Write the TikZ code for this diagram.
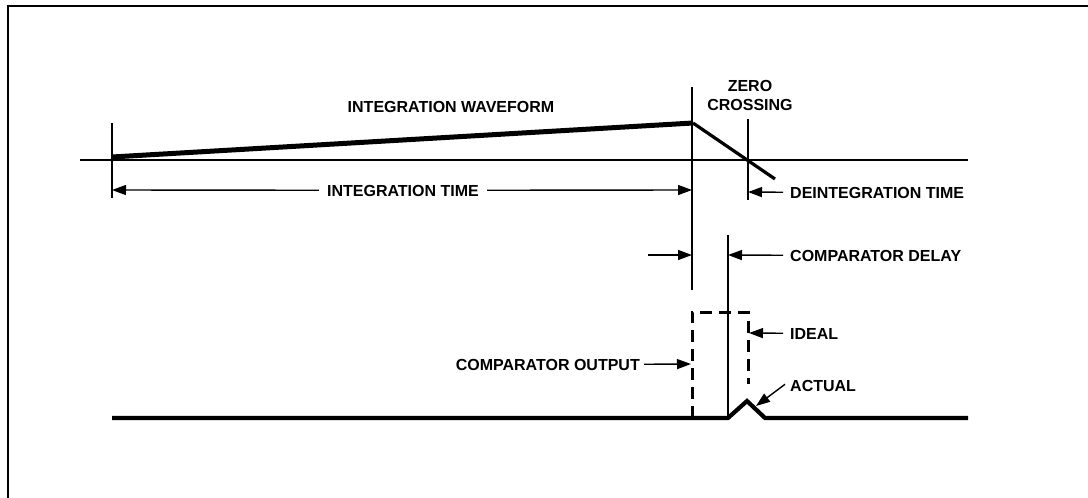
\documentclass[tikz,border=0pt]{standalone}
\usepackage{fontspec}
\setmainfont{Liberation Sans}
\usetikzlibrary{arrows.meta}
\begin{document}
\begin{tikzpicture}[x=1pt,y=-1pt,
  thinline/.style={line width=1.4pt},
  arr/.style={line width=1.4pt,-{Triangle[length=14pt,width=10pt]}},
  lbl/.style={font=\bfseries\fontsize{16}{18}\selectfont, inner sep=0pt, text height=11.5pt, text depth=0pt},
  wave/.style={line width=5pt, line join=round},
  trace/.style={line width=4.2pt, line join=miter},
  ideal/.style={line width=3pt, dash pattern=on 12pt off 7pt}]
\useasboundingbox (0,0) rectangle (1088,498);
% frame
\draw[line width=1.5pt] (8,498) -- (8,6) -- (1088,6);
% axis and vertical markers
\coordinate (ax0) at (80,160);
\coordinate (ax1) at (968,160);
\draw[thinline] (ax0) -- (ax1);
\coordinate (v1t) at (112,123); \coordinate (v1b) at (112,198);
\coordinate (v2t) at (692,87);  \coordinate (v2b) at (692,290);
\coordinate (v3t) at (748,119); \coordinate (v3b) at (748,200);
\coordinate (v4t) at (728,235); \coordinate (v4b) at (728,418);
\draw[thinline] (v1t) -- (v1b);
\draw[thinline] (v2t) -- (v2b);
\draw[thinline] (v3t) -- (v3b);
\draw[thinline] (v4t) -- (v4b);
% integration waveform
\coordinate (w0) at (112,157);
\coordinate (w1) at (693,123);
\coordinate (w2) at (775,179);
\draw[wave] (w0) -- (w1);
\draw[line width=3.2pt] (w1) -- (w2);
% comparator output traces
\coordinate (b0) at (112,418);
\coordinate (b1) at (968,418);
\coordinate (p0) at (728,418);
\coordinate (pk) at (747,401);
\coordinate (p1) at (765,418);
\draw[trace] (b0) -- (p0) -- (pk) -- (p1) -- (b1);
\coordinate (d0) at (692,418);
\coordinate (d1) at (692,312);
\coordinate (d2) at (748,312);
\coordinate (d3) at (748,384);
\draw[ideal] (d0) -- (d1) -- (d2) -- (d3);
% labels
\node[lbl, anchor=base] (iw) at (451,112) {INTEGRATION WAVEFORM};
\node[lbl, anchor=base] (zero) at (750,91) {ZERO};
\node[lbl, anchor=base] (cross) at (750,110) {CROSSING};
\node[lbl, anchor=base] (it) at (403,196) {INTEGRATION TIME};
\node[lbl, anchor=base west] (dt) at (790,198) {DEINTEGRATION TIME};
\node[lbl, anchor=base west] (cd) at (790,261) {COMPARATOR DELAY};
\node[lbl, anchor=base west] (id) at (790,339) {IDEAL};
\node[lbl, anchor=base east] (co) at (640,370) {COMPARATOR OUTPUT};
\node[lbl, anchor=base west] (ac) at (790,391) {ACTUAL};
% arrows
\coordinate (itl) at (112,190);
\coordinate (itr) at (692,190);
\draw[arr] ([xshift=-8pt]it.west) -- (itl);
\draw[arr] ([xshift=8pt]it.east) -- (itr);
\coordinate (dtt) at (748,192);
\draw[arr] ([xshift=-7pt]dt.west) -- (dtt);
\coordinate (cdl0) at (648,255);
\coordinate (cdl1) at (692,255);
\draw[arr] (cdl0) -- (cdl1);
\coordinate (cdr) at (728,255);
\draw[arr] ([xshift=-7pt]cd.west) -- (cdr);
\coordinate (idt) at (749,333);
\draw[arr] ([xshift=-7pt]id.west) -- (idt);
\coordinate (cot) at (691,364);
\draw[arr] ([xshift=4pt]co.east) -- (cot);
\coordinate (act) at (756,406);
\draw[arr] ([xshift=-5pt,yshift=1pt]ac.west) -- (act);
\end{tikzpicture}
\end{document}
